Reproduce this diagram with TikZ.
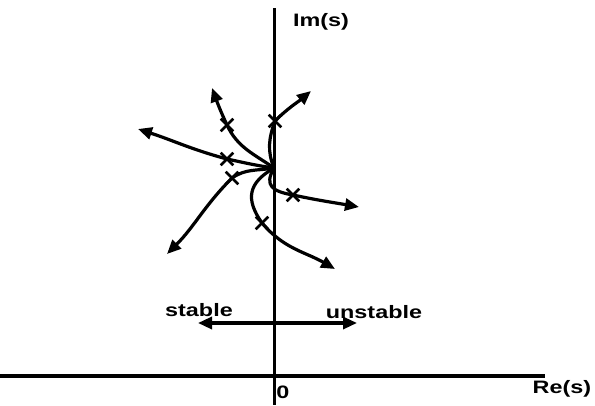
\documentclass[tikz,border=0pt]{standalone}
\usepackage{fontspec}
\setmainfont{Liberation Sans}
\newfontfamily\lblfont[FakeStretch=1.3]{Liberation Sans Bold}
\usetikzlibrary{arrows.meta,shapes.misc}
\begin{document}
\begin{tikzpicture}[x=1pt,y=-1pt,
  tip/.tip={Triangle[length=14pt,width=12pt]},
  axis/.style={line width=3.2pt},
  branch/.style={line width=3.2pt,-tip},
  pole/.style={cross out,draw,line width=2.6pt,minimum size=10pt,inner sep=0pt},
  lbl/.style={font=\lblfont\fontsize{18}{21}\selectfont,inner sep=0pt}]
\useasboundingbox (0,0) rectangle (595,405);
% axes
\coordinate (ytop) at (274.5,8);
\coordinate (ybot) at (274.5,405);
\coordinate (xl) at (0,376);
\coordinate (xr) at (545,376);
\draw[axis] (ytop) -- (ybot);
\draw[axis] (xl) -- (xr);
\node[lbl] (im) at (321,22) {Im(s)};
\node[lbl] (re) at (562,389) {Re(s)};
\node[lbl] (zero) at (283,392) {0};
% stable / unstable
\coordinate (sl) at (198,323);
\coordinate (sr) at (357,323);
\draw[line width=3.2pt,tip-tip] (sl) -- (sr);
\node[lbl] (st) at (199,310) {stable};
\node[lbl] (un) at (374,312) {unstable};
% root locus
\coordinate (c) at (274,168);
\node[pole] (x1) at (227,125) {};
\node[pole] (x2) at (227,159) {};
\node[pole] (x3) at (232,178) {};
\node[pole] (x4) at (275,121) {};
\node[pole] (x5) at (293,195) {};
\node[pole] (x6) at (262,223) {};
\coordinate (t1) at (212,88);
\coordinate (t2) at (138,129);
\coordinate (t3) at (167,254);
\coordinate (t4) at (311,91);
\coordinate (t5) at (359,207);
\coordinate (t6) at (335,269);
\draw[branch] (c) to[out=145,in=-65] (x1.center) to[out=115,in=-70] (t1);
\draw[branch] (c) to[out=172,in=-12] (x2.center) to[out=165,in=-18] (t2);
\draw[branch] (c) to[out=190,in=35] (x3.center) to[out=-135,in=45] (t3);
\draw[branch] (c) to[out=112,in=-110] (x4.center) to[out=45,in=-140] (t4);
\draw[branch] (c) to[out=-120,in=170,looseness=1.6] (x5.center) to[out=-12,in=170] (t5);
\draw[branch] (c) to[out=-150,in=125,looseness=1.35] (x6.center) to[out=-50,in=150] (t6);
\end{tikzpicture}
\end{document}
